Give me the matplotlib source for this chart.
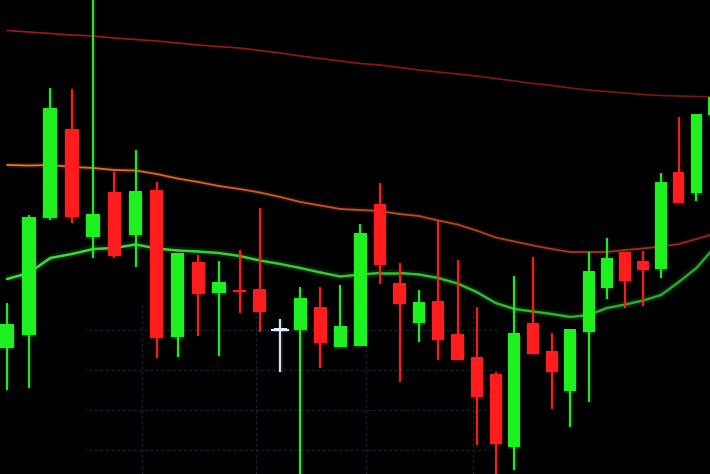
import numpy as np
import matplotlib
matplotlib.use("Agg")
import matplotlib.pyplot as plt
from matplotlib.collections import LineCollection
from matplotlib.patches import Rectangle

# ---- data (price units) ----
opens  = [126, 139, 256, 345, 237, 282, 239, 284, 137, 212, 181, 184, 185, 144, 144, 167, 127, 128, 270,
          191, 151, 173, 140, 117, 100, 27, 151, 123, 83, 142, 186, 222, 213, 205, 302, 281, 359]
highs  = [171, 259, 386, 385, 480, 302, 324, 292, 221, 219, 213, 224, 266, 155, 187, 187, 189, 250, 291,
          211, 184, 253, 214, 167, 102, 198, 217, 141, 145, 222, 236, 222, 223, 301, 357, 360, 377]
lows   = [84, 86, 254, 251, 216, 216, 207, 116, 117, 138, 118, 161, 142, 102, -6, 106, 127, 128, 190,
          92, 132, 114, 114, 29, -6, 4, 120, 65, 47, 72, 175, 166, 168, 196, 271, 273, 359]
closes = [150, 257, 366, 257, 260, 218, 283, 136, 221, 180, 192, 182, 162, 144, 176, 131, 148, 241, 209,
          170, 172, 134, 114, 77, 30, 141, 120, 102, 145, 203, 216, 193, 204, 292, 271, 360, 377]

ma_slow = [443.5, 442, 440.5, 439, 438, 436, 434.5, 433, 431, 429, 427.5, 426, 423.5, 421, 418, 415.5,
           413, 410.5, 409, 406.5, 404, 402, 400, 398, 395.5, 393, 390.5, 388.5, 386, 384, 382.5, 381,
           379.5, 378.5, 378, 377.5, 377]
ma_mid  = [309, 308.5, 309, 307, 306, 304, 303.5, 300, 295.5, 292, 288, 285, 281.5, 277, 272, 268.5,
           265, 264, 263, 260, 258, 253.5, 249.5, 243.5, 236.5, 232.5, 228.5, 225, 222, 222, 222, 224,
           225.5, 227.5, 230, 235, 240]
ma_fast = [195, 201, 216, 220, 225, 226, 229.5, 225.5, 223.5, 222.5, 221, 218, 213.5, 210, 206, 201.5,
           197.5, 199.5, 201, 201, 199.5, 196, 190.5, 182, 171, 165, 162.5, 160, 157, 159, 166, 169.5,
           173.5, 179, 192, 206, 226]

GREEN = "#1ff01f"
RED = "#ff1c1c"
DOJI = "#dfe8ff"

fig = plt.figure(figsize=(7.1, 4.74), dpi=100, facecolor="black")
ax = fig.add_axes([0, 0, 1, 1], facecolor="black")

# perspective-like horizontal scale
A, B = 21.8, 0.06
def fwd(i):
    i = np.asarray(i, dtype=float)
    return A * i - B * i ** 2
def inv(p):
    p = np.asarray(p, dtype=float)
    return (A - np.sqrt(np.maximum(A ** 2 - 4 * B * p, 0))) / (2 * B)
ax.set_xscale("function", functions=(fwd, inv))

n = len(opens)
idx = np.arange(n)
o = np.array(opens, float); c = np.array(closes, float)
h = np.array(highs, float); l = np.array(lows, float)
cols = [GREEN if cc > oo else (RED if cc < oo else DOJI) for oo, cc in zip(o, c)]

# faint grid in lower region
ax.set_xticks([6.3, 11.8, 17.3, 22.8, 28.5])
ax.set_yticks([24, 64, 104, 144])
ax.grid(True, color="#0e2a3e", linestyle=(0, (2.5, 2.5)), linewidth=0.8)
clip = Rectangle((0.12, 0.0), 0.58, 0.36, transform=ax.transAxes, facecolor="none", edgecolor="none")
ax.add_patch(clip)
for gl in ax.get_xgridlines() + ax.get_ygridlines():
    gl.set_clip_path(clip)

# moving averages with colour gradients
def grad_line(y, c0, c1, lw, glow=None):
    x = idx.astype(float)
    pts = np.array([x, y]).T.reshape(-1, 1, 2)
    segs = np.concatenate([pts[:-1], pts[1:]], axis=1)
    t = np.linspace(0, 1, len(segs))
    a = np.array(matplotlib.colors.to_rgb(c0)); b = np.array(matplotlib.colors.to_rgb(c1))
    colors = [tuple(a + (b - a) * tt) for tt in t]
    if glow:
        ax.add_collection(LineCollection(segs, colors=colors, linewidths=lw * 3, alpha=0.15, zorder=2))
    ax.add_collection(LineCollection(segs, colors=colors, linewidths=lw, zorder=2.5,
                                     capstyle="round", joinstyle="round"))

grad_line(np.array(ma_slow), "#a01a12", "#7a1410", 1.2)
grad_line(np.array(ma_mid), "#e8762a", "#8c2a18", 1.3, glow=True)
grad_line(np.array(ma_fast), "#3ae03a", "#25a825", 1.8, glow=True)

# candles
w = 0.64
bottom = np.minimum(o, c)
height = np.maximum(np.abs(c - o), 1.6)
# glow
ax.vlines(idx, l, h, colors=cols, linewidth=3.5, alpha=0.13, zorder=3)
ax.bar(idx, height, w * 1.15, bottom=bottom - 1.5, color=cols, alpha=0.16, zorder=3, linewidth=0)
ax.vlines(idx, l, h, colors=cols, linewidth=1.4, zorder=4)
ax.bar(idx, height, w, bottom=bottom, color=cols, zorder=5, linewidth=0)
# doji cross bars
for i in range(n):
    if c[i] == o[i]:
        ax.hlines(o[i], i - 0.45, i + 0.45, colors=cols[i], linewidth=1.6, zorder=5)

ax.set_xlim(-0.32, 35.77)
ax.set_ylim(0, 474)
ax.tick_params(left=False, bottom=False, labelleft=False, labelbottom=False)
for s in ax.spines.values():
    s.set_visible(False)

fig.savefig("out.png", dpi=100, facecolor="black")
